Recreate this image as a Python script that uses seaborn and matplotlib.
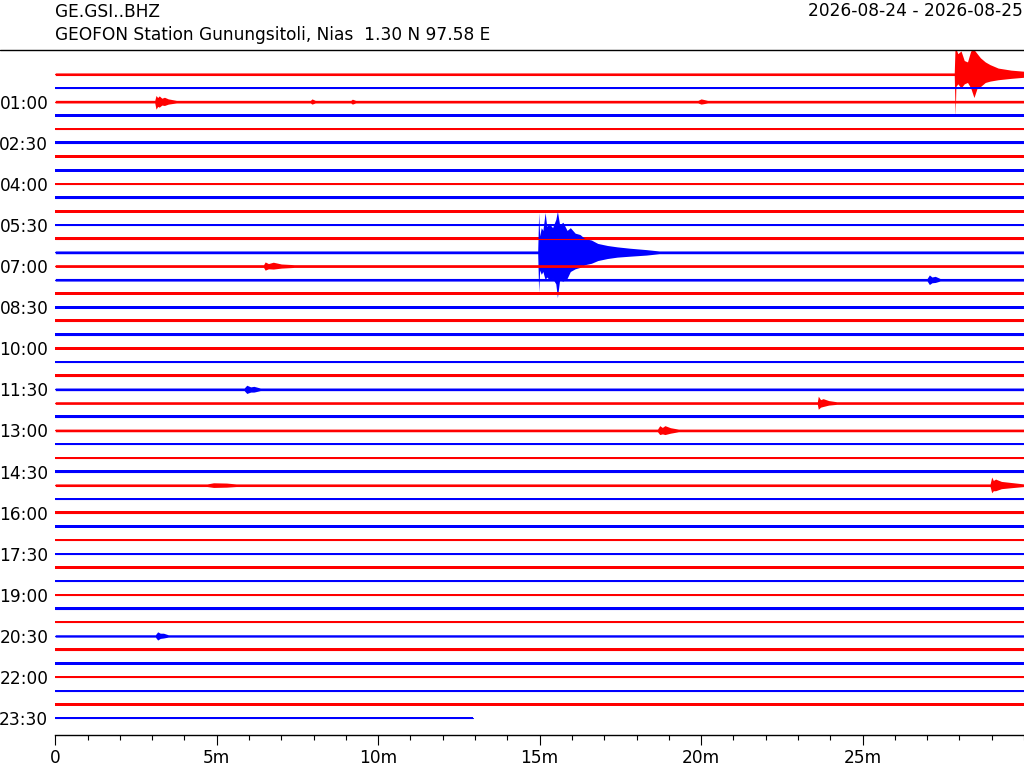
import pandas as pd
import seaborn as sns
import matplotlib.pyplot as plt
from matplotlib.lines import Line2D
from matplotlib.ticker import MultipleLocator

sns.set_theme(style="white")
plt.rcParams['font.family'] = ['DejaVu Sans']
plt.rcParams['text.color'] = 'black'
plt.rcParams['xtick.color'] = 'black'
plt.rcParams['ytick.color'] = 'black'
plt.rcParams['axes.edgecolor'] = 'black'

station = "GE.GSI..BHZ"
station_desc = "GEOFON Station Gunungsitoli, Nias  1.30 N 97.58 E"
date_range = "2026-08-24 - 2026-08-25"

# one helicorder row every 30 min, each row 30 min long
hour_labels = ["01:00", "02:30", "04:00", "05:30", "07:00", "08:30", "10:00", "11:30",
               "13:00", "14:30", "16:00", "17:30", "19:00", "20:30", "22:00", "23:30"]
minute_ticks = [0, 5, 10, 15, 20, 25]
minute_labels = ["0", "5m", "10m", "15m", "20m", "25m"]
row_colors = ["red", "blue"]
last_row_end = 12.93  # data stops here in the 23:30 row

# background noise half width per row (row spacing = 1)
noise = [0.095, 0.10, 0.095, 0.10, 0.095, 0.10, 0.095, 0.10,
         0.095, 0.10, 0.095, 0.095, 0.095, 0.10, 0.10, 0.095,
         0.11, 0.11, 0.12, 0.13, 0.11, 0.10, 0.095, 0.095,
         0.095, 0.095, 0.095, 0.095, 0.095, 0.095, 0.095, 0.09,
         0.09, 0.09, 0.09, 0.09, 0.085, 0.085, 0.085, 0.085,
         0.085, 0.085, 0.085, 0.085, 0.085, 0.085, 0.085, 0.085]

# event envelopes: row, minute, amplitude up, amplitude down (0 = noise level)
ev_row, ev_min, ev_up, ev_down = [], [], [], []

def add_event(row, pts):
    for m, u, d in pts:
        ev_row.append(row)
        ev_min.append(m)
        ev_up.append(u)
        ev_down.append(d)

# big quake, 00:00 row
add_event(0, [(27.84, 0, 0), (27.87, 2.4, 3.1), (27.89, 1.9, 0.9), (27.95, 1.5, 0.7),
              (28.05, 1.7, 1.0), (28.15, 1.0, 0.7), (28.25, 0.9, 0.6), (28.35, 1.7, 1.0),
              (28.45, 1.8, 1.7), (28.55, 1.5, 1.0), (28.65, 1.2, 0.9), (28.8, 0.9, 0.6),
              (28.95, 0.7, 0.5), (29.2, 0.45, 0.4), (29.6, 0.3, 0.3), (30.0, 0.22, 0.22)])
add_event(2, [(3.08, 0, 0), (3.12, 0.45, 0.55), (3.17, 0.3, 0.35), (3.22, 0.42, 0.4),
              (3.3, 0.25, 0.25), (3.38, 0.32, 0.28), (3.5, 0.2, 0.18), (3.75, 0, 0),
              (7.9, 0, 0), (7.95, 0.2, 0.18), (8.05, 0, 0),
              (9.15, 0, 0), (9.2, 0.18, 0.18), (9.3, 0, 0),
              (19.9, 0, 0), (20.0, 0.2, 0.18), (20.2, 0, 0)])
# big quake, 06:30 row
add_event(13, [(14.94, 0, 0), (14.97, 2.9, 2.9), (15.0, 1.2, 1.3), (15.05, 1.8, 1.6),
               (15.1, 1.6, 1.4), (15.17, 2.9, 2.0), (15.22, 1.9, 1.8), (15.3, 2.1, 2.0),
               (15.4, 1.8, 1.9), (15.5, 2.4, 2.3), (15.55, 3.0, 3.3), (15.62, 2.0, 2.0),
               (15.72, 2.2, 2.1), (15.85, 1.6, 1.9), (15.95, 1.8, 1.4), (16.1, 1.4, 1.2),
               (16.25, 1.3, 1.1), (16.4, 1.0, 0.9), (16.6, 0.9, 0.8), (16.8, 0.65, 0.6),
               (17.1, 0.5, 0.45), (17.4, 0.4, 0.35), (17.8, 0.3, 0.28), (18.3, 0.2, 0.2),
               (18.7, 0, 0)])
add_event(14, [(6.45, 0, 0), (6.5, 0.3, 0.3), (6.6, 0.18, 0.2), (6.75, 0.28, 0.22),
               (7.0, 0.15, 0.15), (7.4, 0, 0)])
add_event(15, [(27.0, 0, 0), (27.07, 0.35, 0.35), (27.15, 0.2, 0.22), (27.25, 0.25, 0.2), (27.4, 0, 0)])
add_event(23, [(5.85, 0, 0), (5.93, 0.3, 0.3), (6.05, 0.18, 0.2), (6.15, 0.22, 0.2), (6.35, 0, 0)])
add_event(24, [(23.6, 0, 0), (23.63, 0.5, 0.45), (23.7, 0.25, 0.3), (23.78, 0.32, 0.25),
               (23.95, 0.18, 0.15), (24.2, 0, 0)])
add_event(26, [(18.65, 0, 0), (18.72, 0.35, 0.3), (18.8, 0.22, 0.25), (18.88, 0.35, 0.3),
               (19.05, 0.2, 0.2), (19.3, 0, 0)])
add_event(30, [(4.7, 0, 0), (4.9, 0.18, 0.16), (5.3, 0.16, 0.14), (5.6, 0, 0),
               (28.95, 0, 0), (29.0, 0.6, 0.55), (29.05, 0.35, 0.4), (29.12, 0.45, 0.4),
               (29.3, 0.28, 0.25), (29.6, 0.2, 0.18), (30.0, 0, 0)])
add_event(41, [(3.1, 0, 0), (3.17, 0.3, 0.3), (3.25, 0.2, 0.18), (3.35, 0.2, 0.15), (3.5, 0, 0)])

events = pd.DataFrame({'row': ev_row, 'minute': ev_min, 'up': ev_up, 'down': ev_down})

# build one envelope table for every row
parts = []
for r in range(len(noise)):
    end = last_row_end if r == len(noise) - 1 else 30.0
    base = pd.DataFrame({'row': r, 'minute': [0.0, end], 'up': 0.0, 'down': 0.0})
    part = pd.concat([base, events[events['row'] == r]])
    part = part.sort_values('minute').drop_duplicates('minute', keep='last')
    part['upper'] = -r + part['up'].clip(lower=noise[r])
    part['lower'] = -r - part['down'].clip(lower=noise[r])
    part['offset'] = -r
    part['color'] = row_colors[r % 2]
    parts.append(part)
traces = pd.concat(parts, ignore_index=True)

fig = plt.figure(figsize=(10.24, 7.68), dpi=100)
ax = fig.add_axes([55.3 / 1024, 33 / 768, (1024 - 55.3) / 1024, 685 / 768])

for r, part in traces.groupby('row'):
    ax.fill_between(part['minute'], part['lower'], part['upper'],
                    color=part['color'].iloc[0], lw=0)
sns.lineplot(data=traces, x='minute', y='offset', hue='color', units='row',
             estimator=None, palette={'red': 'red', 'blue': 'blue'},
             legend=False, linewidth=0.8, ax=ax)

ax.set_xlim(0, 30)
ax.set_ylim(-48.23, 1.77)
ax.set_xlabel('')
ax.set_ylabel('')
ax.set_xticks(minute_ticks)
ax.set_xticklabels(minute_labels, fontsize=12.25)
ax.xaxis.set_minor_locator(MultipleLocator(1))
ax.tick_params(axis='x', which='major', bottom=True, length=7.2, width=0.8, pad=3)
ax.tick_params(axis='x', which='minor', bottom=True, length=3.6, width=0.8)
rows = [-(int(h[:2]) * 2 + int(h[3:]) // 30) for h in hour_labels]
ax.set_yticks(rows)
ax.set_yticklabels(hour_labels, fontsize=12.25)
ax.tick_params(axis='y', left=False, length=0, pad=5)
for s in ['left', 'right', 'top']:
    ax.spines[s].set_visible(False)
ax.spines['bottom'].set_linewidth(1.0)

fig.text(55 / 1024, 1 - 16.7 / 768, station, fontsize=12.25, va='baseline')
fig.text(55 / 1024, 1 - 40 / 768, station_desc, fontsize=12.25, va='baseline')
fig.text(1022.7 / 1024, 1 - 16.5 / 768, date_range, fontsize=12.25, va='baseline', ha='right')
fig.add_artist(Line2D([0, 1], [1 - 50 / 768, 1 - 50 / 768], color='black', lw=1.0))

fig.savefig('out.png', dpi=100)
